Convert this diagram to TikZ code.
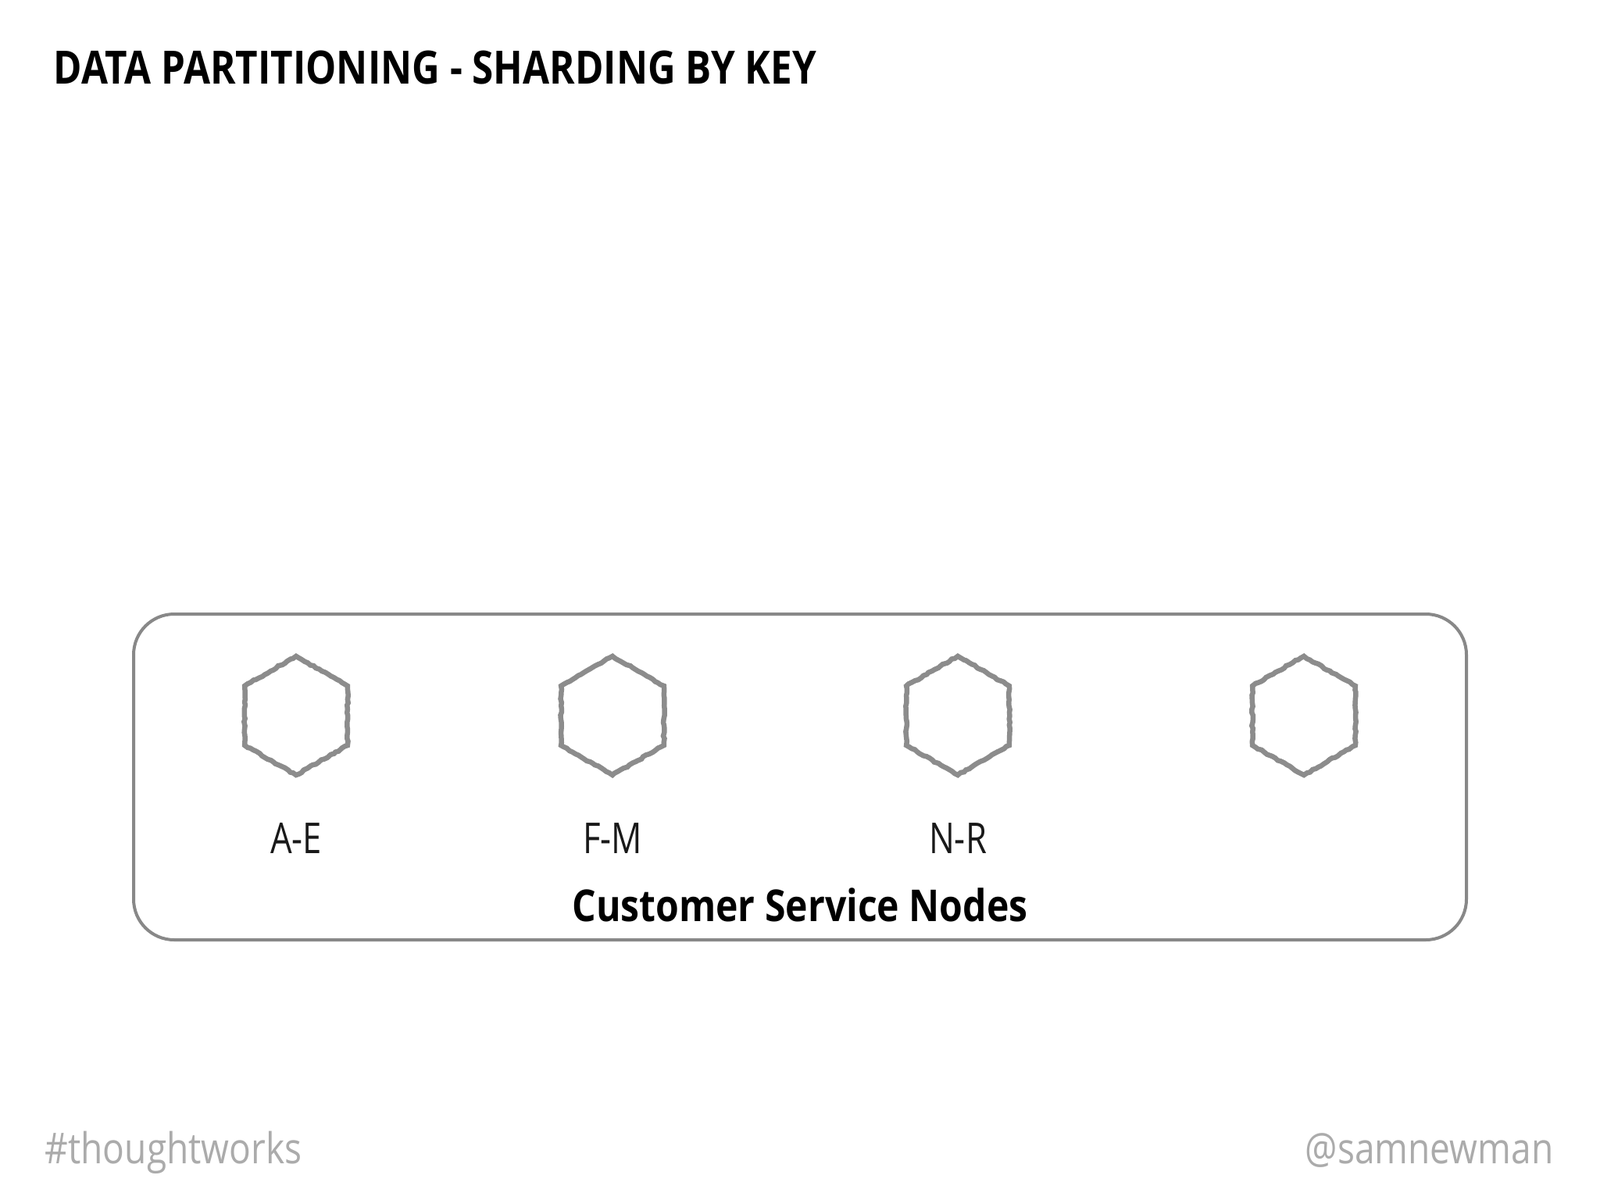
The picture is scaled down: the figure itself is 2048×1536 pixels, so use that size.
\documentclass[tikz,border=0pt]{standalone}
\usepackage{fontspec}
\setmainfont{Open Sans}
\newfontfamily\narrowfont[FakeStretch=0.8]{Open Sans}
\newfontfamily\titlefont[FakeStretch=0.84]{Open Sans}
\newfontfamily\captionfont[FakeStretch=0.855]{Open Sans}
\newfontfamily\footfont[FakeStretch=0.845]{Open Sans}
\usetikzlibrary{shapes.geometric,decorations.pathmorphing}
\definecolor{boxgray}{HTML}{888888}
\definecolor{hexgray}{HTML}{8C8C8C}
\definecolor{footgray}{HTML}{ABABAB}

\begin{document}
\begin{tikzpicture}[x=0.01cm, y=-0.01cm,
  shard/.style={regular polygon, regular polygon sides=6, shape border rotate=30,
    minimum size=1.52cm, inner sep=0pt, draw=hexgray, line width=0.065cm,
    decorate, decoration={random steps, segment length=1.2pt, amplitude=0.25pt}},
  rangelabel/.style={anchor=base, text=black!90, font=\narrowfont\fontsize{15.5}{18}\selectfont},
  footer/.style={anchor=base, text=footgray, font=\footfont\fontsize{15.5}{18}\selectfont}]
\useasboundingbox[fill=white] (0,0) rectangle (2048,1536);

\node[anchor=base west, inner sep=0pt, font=\titlefont\fontsize{16.7}{20}\bfseries]
  (title) at (68,107) {DATA PARTITIONING - SHARDING BY KEY};

\draw[boxgray, line width=0.04cm, rounded corners=0.52cm] (171,786) rectangle (1877,1203);
\coordinate (boxbase) at (1024,1179);

% shards
\node[shard] (shardA) at (379,916) {};
\node[shard] (shardF) at (784,916) {};
\node[shard] (shardN) at (1226,916) {};
\node[shard] (shardS) at (1669,916) {};

\node[rangelabel, inner sep=0pt] (labelA) at (379,1092) {A-E};
\node[rangelabel, inner sep=0pt] (labelF) at (784,1092) {F-M};
\node[rangelabel, inner sep=0pt] (labelN) at (1226,1092) {N-R};

\node[anchor=base, inner sep=0pt, font=\captionfont\fontsize{16}{19}\bfseries]
  (service) at (boxbase) {Customer Service Nodes};

\node[footer, anchor=base west, inner sep=0pt] (tag) at (57,1489) {\#thoughtworks};
\node[footer, anchor=base east, inner sep=0pt] (handle) at (1989,1489) {@samnewman};
\end{tikzpicture}
\end{document}
